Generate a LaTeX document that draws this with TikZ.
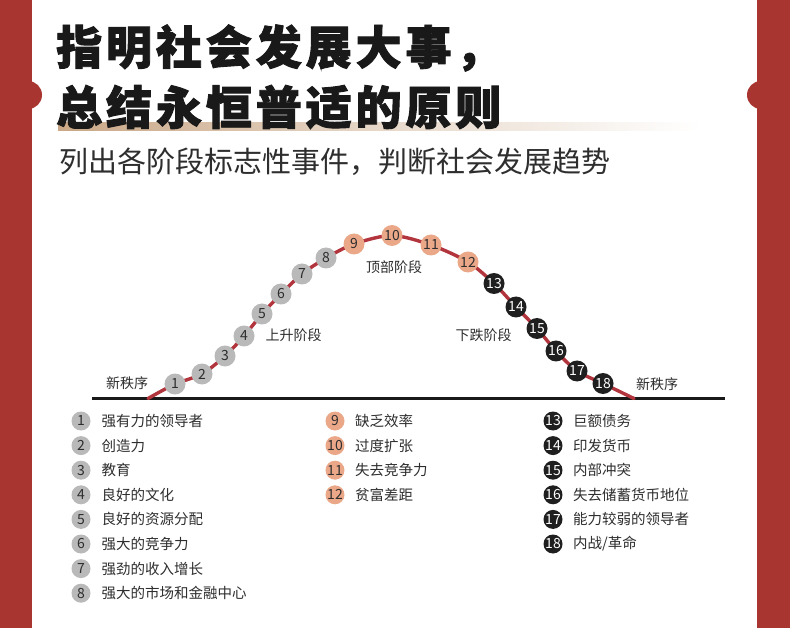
\documentclass[tikz,border=0pt]{standalone}
\usepackage{fontspec}
\setmainfont{Noto Sans CJK SC}
\newfontfamily\cjk{Noto Sans CJK SC}
\newfontfamily\cjkheavy[BoldFeatures={FakeBold=2},LetterSpace=8.5]{Noto Sans CJK SC}
\definecolor{bgred}{HTML}{A8352F}
\definecolor{curvered}{HTML}{B2343C}
\definecolor{cgray}{HTML}{B9B9B9}
\definecolor{cpink}{HTML}{EBA889}
\definecolor{cdark}{HTML}{1F1F1F}
\definecolor{ctext}{HTML}{2E2E2E}
\definecolor{ctan}{HTML}{C9A786}
\begin{document}
\begin{tikzpicture}[x=1pt,y=-1pt,
  num/.style={circle,inner sep=0pt,minimum size=21pt,font=\fontsize{14}{14}\selectfont},
  legc/.style={circle,inner sep=0pt,minimum size=19pt,font=\fontsize{14}{14}\selectfont},
  grayc/.style={fill=cgray,text=ctext},
  pinkc/.style={fill=cpink,text=ctext},
  darkc/.style={fill=cdark,text=white},
  legtxt/.style={anchor=west,inner sep=0pt,font=\fontsize{14.5}{14.5}\selectfont,text=ctext},
  lbl/.style={inner sep=0pt,font=\fontsize{14}{14}\selectfont,text=ctext},
  titletxt/.style={anchor=west,inner sep=0pt,text=black!90,font=\cjkheavy\bfseries\fontsize{46}{46}\selectfont},
]
\useasboundingbox (0,0) rectangle (790,628);
% background
\fill[bgred] (0,0) rectangle (790,628);
\fill[white] (32,0) rectangle (757,628);
\fill[bgred] (28,95) circle[radius=14pt];
\fill[bgred] (761,95) circle[radius=14pt];
% title underline band
\shade[left color=ctan, right color=white, middle color=ctan!45] (58,123) rectangle (700,131);
% titles
\node[titletxt] (t1) at (56,48) {指明社会发展大事，};
\node[titletxt] (t2) at (56,107) {总结永恒普适的原则};
\node[anchor=west,inner sep=0pt,text=ctext,font=\fontsize{29}{29}\selectfont] (sub) at (59,162) {列出各阶段标志性事件，判断社会发展趋势};
% baseline
\coordinate (b0) at (92,398);
\coordinate (b1) at (725,398);
\draw[line width=3pt, black!90] (b0) -- (b1);
% curve points
\coordinate (s) at (148,398.5);
\coordinate (p1) at (175,384);
\coordinate (p2) at (202,374);
\coordinate (p3) at (225,356);
\coordinate (p4) at (244,336);
\coordinate (p5) at (262,314);
\coordinate (p6) at (281,294);
\coordinate (p7) at (302,274);
\coordinate (p8) at (326,258);
\coordinate (p9) at (354,244);
\coordinate (p10) at (392,235.5);
\coordinate (p11) at (431,245);
\coordinate (p12) at (468,262);
\coordinate (p13) at (494,283.5);
\coordinate (p14) at (516,307);
\coordinate (p15) at (537,328.5);
\coordinate (p16) at (556,351);
\coordinate (p17) at (577,371);
\coordinate (p18) at (603,383.5);
\coordinate (e) at (634,398.5);
\draw[curvered, line width=3.4pt, line cap=round] plot[smooth, tension=0.5] coordinates {(s) (p1) (p2) (p3) (p4) (p5) (p6) (p7) (p8) (p9) (p10) (p11) (p12) (p13) (p14) (p15) (p16) (p17) (p18) (e)};
% chart circles
\foreach \i in {1,...,8} \node[num,grayc] (n\i) at (p\i) {\i};
\foreach \i in {9,...,12} \node[num,pinkc] (n\i) at (p\i) {\i};
\foreach \i in {13,...,18} \node[num,darkc] (n\i) at (p\i) {\i};
% stage labels
\node[lbl] (new1) at (127,383) {新秩序};
\node[lbl] (up) at (293.5,335) {上升阶段};
\node[lbl] (top) at (394,267) {顶部阶段};
\node[lbl] (down) at (483.5,335) {下跌阶段};
\node[lbl] (new2) at (657,384) {新秩序};
% legend column 1
\foreach \i/\t in {1/强有力的领导者,2/创造力,3/教育,4/良好的文化,5/良好的资源分配,6/强大的竞争力,7/强劲的收入增长,8/强大的市场和金融中心}{
  \node[legc,grayc] (l\i) at (81,{421+24.6*(\i-1)}) {\i};
  \node[legtxt] (lt\i) at (101.5,{421+24.6*(\i-1)}) {\t};
}
% legend column 2
\foreach \i/\t in {9/缺乏效率,10/过度扩张,11/失去竞争力,12/贫富差距}{
  \node[legc,pinkc] (l\i) at (335,{421+24.6*(\i-9)}) {\i};
  \node[legtxt] (lt\i) at (355,{421+24.6*(\i-9)}) {\t};
}
% legend column 3
\foreach \i/\t in {13/巨额债务,14/印发货币,15/内部冲突,16/失去储蓄货币地位,17/能力较弱的领导者,18/{内战/革命}}{
  \node[legc,darkc] (l\i) at (553,{421+24.6*(\i-13)}) {\i};
  \node[legtxt] (lt\i) at (573,{421+24.6*(\i-13)}) {\t};
}
\end{tikzpicture}
\end{document}
